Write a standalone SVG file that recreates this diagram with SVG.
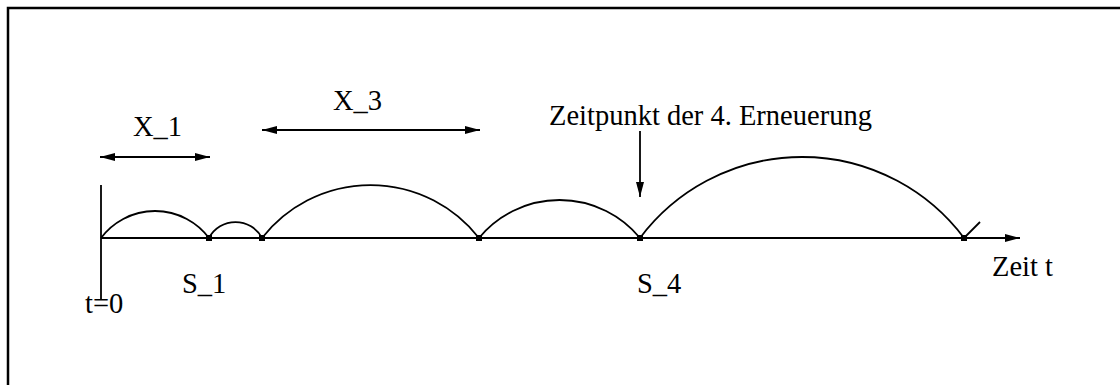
<svg xmlns="http://www.w3.org/2000/svg" width="1120" height="385" viewBox="0 0 1120 385">
<defs>
<marker id="ah" markerWidth="15" markerHeight="10" refX="15" refY="5" orient="auto-start-reverse" markerUnits="userSpaceOnUse">
<path d="M0,1 L15,5 L0,9 Z" fill="#000"/>
</marker>
</defs>
<path d="M8,390 L8,8 L1130,8" fill="none" stroke="#000" stroke-width="2.5"/>
<g id="connectors" stroke="#000" stroke-width="1.8" fill="none">
<line x1="101" y1="238" x2="1020" y2="238" marker-end="url(#ah)"/>
<line x1="101" y1="185" x2="101" y2="300"/>
<path d="M101,238 A67.5,67.5 0 0 1 209,238"/>
<path d="M209,238 A30,30 0 0 1 262,238"/>
<path d="M262,238 A137.6,137.6 0 0 1 479,238"/>
<path d="M479,238 A104.3,104.3 0 0 1 640,238"/>
<path d="M640,238 A202.5,202.5 0 0 1 964,238"/>
<line x1="964" y1="238" x2="980" y2="222"/>
<line x1="100" y1="157" x2="210" y2="157" marker-start="url(#ah)" marker-end="url(#ah)"/>
<line x1="262" y1="130" x2="480" y2="130" marker-start="url(#ah)" marker-end="url(#ah)"/>
<line x1="640" y1="131" x2="640" y2="197" marker-end="url(#ah)"/>
</g>
<g id="points" fill="#000">
<rect x="206" y="235" width="6" height="6"/>
<rect x="259" y="235" width="6" height="6"/>
<rect x="476" y="235" width="6" height="6"/>
<rect x="637" y="235" width="6" height="6"/>
<rect x="961" y="235" width="6" height="6"/>
</g>
<g id="labels" style="font-family:'Liberation Serif','DejaVu Serif',serif;font-size:28.5px;fill:#000">
<text x="133" y="136">X_1</text>
<text x="333" y="110">X_3</text>
<text x="549" y="125">Zeitpunkt der 4. Erneuerung</text>
<text x="182" y="293">S_1</text>
<text x="637" y="293">S_4</text>
<text x="85" y="313">t=0</text>
<text x="992" y="276">Zeit t</text>
</g>
</svg>
